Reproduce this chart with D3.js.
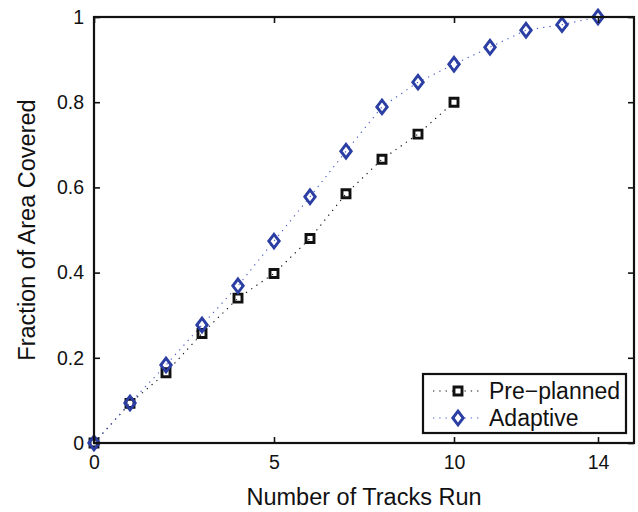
<!DOCTYPE html>
<html>
<head>
<meta charset="utf-8">
<script src="https://cdn.jsdelivr.net/npm/d3@7"></script>
<style>
  html, body { margin: 0; padding: 0; background: #fff; }
  svg { display: block; }
  text { font-family: "Liberation Sans", Arial, Helvetica, sans-serif; fill: #111; }
</style>
</head>
<body>
<svg id="chart" width="638" height="512"></svg>
<script>
// Number of tracks run (x) and fraction of area covered for each strategy
const tracks = [0, 1, 2, 3, 4, 5, 6, 7, 8, 9, 10, 11, 12, 13, 14];
const preplanned = [0, 0.093, 0.165, 0.257, 0.340, 0.398, 0.480, 0.585, 0.666, 0.725, 0.800];
const adaptive = [0, 0.094, 0.183, 0.277, 0.369, 0.474, 0.578, 0.685, 0.789, 0.847, 0.889, 0.929, 0.969, 0.982, 1.0];

const xTicks = [0, 5, 10, 14];
const yTicks = [0, 0.2, 0.4, 0.6, 0.8, 1];
const yTickLabels = ["0", "0.2", "0.4", "0.6", "0.8", "1"];

const seriesNames = ["Pre\u2212planned", "Adaptive"];
const xTitle = "Number of Tracks Run";
const yTitle = "Fraction of Area Covered";

const blue = "#2b3ea3";
const black = "#111";

const svg = d3.select("#chart");
const plot = { left: 94, right: 634, top: 17, bottom: 443 };

const x = d3.scaleLinear().domain([0, 15]).range([plot.left, plot.right]);
const y = d3.scaleLinear().domain([0, 1]).range([plot.bottom, plot.top]);

// marker shapes
const squarePath = s => `M${-s},${-s}H${s}V${s}H${-s}Z`;
const diamondPath = (w, h) => `M0,${-h}L${w},0L0,${h}L${-w},0Z`;

const ptsPre = preplanned.map((v, i) => [tracks[i], v]);
const ptsAda = adaptive.map((v, i) => [tracks[i], v]);

const line = d3.line().x(d => x(d[0])).y(d => y(d[1]));

// dotted connecting lines
svg.append("path").datum(ptsPre).attr("d", line)
  .attr("fill", "none").attr("stroke", black).attr("stroke-width", 1.1)
  .attr("stroke-dasharray", "1.3,5");
svg.append("path").datum(ptsAda).attr("d", line)
  .attr("fill", "none").attr("stroke", "#4a5cc6").attr("stroke-width", 1.1)
  .attr("stroke-dasharray", "1.3,5");

// markers
svg.append("g").selectAll("path").data(ptsPre).join("path")
  .attr("transform", d => `translate(${x(d[0])},${y(d[1])})`)
  .attr("d", squarePath(4))
  .attr("fill", "none").attr("stroke", black).attr("stroke-width", 2.9);

svg.append("g").selectAll("path").data(ptsAda).join("path")
  .attr("transform", d => `translate(${x(d[0])},${y(d[1])})`)
  .attr("d", diamondPath(5.2, 6.8))
  .attr("fill", "none").attr("stroke", blue).attr("stroke-width", 2.9);

// axes (ticks point inward, mirrored on top and right)
const tickLen = 6;
const gx = svg.append("g").attr("transform", `translate(0,${plot.bottom})`)
  .call(d3.axisBottom(x).tickValues(xTicks).tickFormat(d3.format("d"))
    .tickSizeInner(-tickLen).tickSizeOuter(0).tickPadding(12));
const gxTop = svg.append("g").attr("transform", `translate(0,${plot.top})`)
  .call(d3.axisTop(x).tickValues(xTicks).tickFormat("")
    .tickSizeInner(-tickLen).tickSizeOuter(0));
const gy = svg.append("g").attr("transform", `translate(${plot.left},0)`)
  .call(d3.axisLeft(y).tickValues(yTicks).tickFormat((d, i) => yTickLabels[i])
    .tickSizeInner(-tickLen).tickSizeOuter(0).tickPadding(10));
const gyRight = svg.append("g").attr("transform", `translate(${plot.right},0)`)
  .call(d3.axisRight(y).tickValues(yTicks).tickFormat("")
    .tickSizeInner(-tickLen).tickSizeOuter(0));

[gx, gxTop, gy, gyRight].forEach(g => {
  g.select(".domain").remove();
  g.selectAll(".tick line").attr("stroke", black).attr("stroke-width", 1.6);
  g.selectAll(".tick text").attr("font-size", 19.5)
    .style("font-family", "'Liberation Sans', Arial, Helvetica, sans-serif").attr("fill", "#111");
});

// axes box
svg.append("rect")
  .attr("x", plot.left).attr("y", plot.top)
  .attr("width", plot.right - plot.left).attr("height", plot.bottom - plot.top)
  .attr("fill", "none").attr("stroke", black).attr("stroke-width", 2.2);

// axis titles
svg.append("text")
  .attr("x", (plot.left + plot.right) / 2).attr("y", 505)
  .attr("text-anchor", "middle").attr("font-size", 23.5)
  .text(xTitle);
svg.append("text")
  .attr("transform", `translate(35,${(plot.top + plot.bottom) / 2}) rotate(-90)`)
  .attr("text-anchor", "middle").attr("font-size", 23.5)
  .text(yTitle);

// legend
const lg = svg.append("g");
lg.append("rect").attr("x", 423).attr("y", 374).attr("width", 203).attr("height", 59)
  .attr("fill", "#fff").attr("stroke", black).attr("stroke-width", 2.2);
const legendRows = [
  { name: seriesNames[0], color: black, lineColor: black, shape: squarePath(4), sw: 2.9, cy: 391 },
  { name: seriesNames[1], color: blue, lineColor: "#4a5cc6", shape: diamondPath(5.2, 6.8), sw: 2.9, cy: 418 }
];
legendRows.forEach(r => {
  lg.append("line").attr("x1", 433).attr("x2", 482).attr("y1", r.cy).attr("y2", r.cy)
    .attr("stroke", r.lineColor).attr("stroke-width", 1.1).attr("stroke-dasharray", "1.3,5");
  lg.append("path").attr("transform", `translate(458,${r.cy})`).attr("d", r.shape)
    .attr("fill", "#fff").attr("stroke", r.color).attr("stroke-width", r.sw);
  lg.append("text").attr("x", 489).attr("y", r.cy + 7.5).attr("font-size", 23).text(r.name);
});
</script>
</body>
</html>
